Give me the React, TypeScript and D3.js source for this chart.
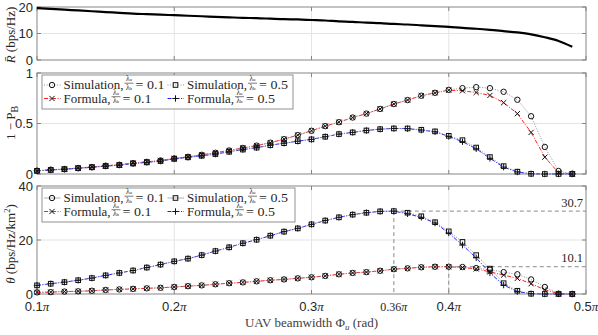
import React from 'react';
import * as d3 from 'd3';

// beamwidth samples (units of pi)
const phi = [
  0.10, 0.11, 0.12, 0.13, 0.14, 0.15, 0.16, 0.17, 0.18, 0.19,
  0.20, 0.21, 0.22, 0.23, 0.24, 0.25, 0.26, 0.27, 0.28, 0.29,
  0.30, 0.31, 0.32, 0.33, 0.34, 0.35, 0.36, 0.37, 0.38, 0.39,
  0.40, 0.41, 0.42, 0.43, 0.44, 0.45, 0.46, 0.47, 0.48, 0.49,
];

const rateBar = [
  19.6, 19.3, 19.0, 18.7, 18.4, 18.1, 17.8, 17.5, 17.3, 17.1,
  16.9, 16.7, 16.5, 16.3, 16.1, 15.9, 15.8, 15.6, 15.4, 15.3,
  15.1, 14.9, 14.6, 14.4, 14.1, 13.9, 13.6, 13.4, 13.1, 12.8,
  12.5, 12.1, 11.8, 11.4, 10.9, 10.4, 9.7, 8.6, 7.2, 5.0,
];

// 1 - P_B
const simCov01 = [
  0.032, 0.042, 0.049, 0.059, 0.069, 0.082, 0.091, 0.108, 0.12, 0.134,
  0.154, 0.17, 0.19, 0.21, 0.233, 0.258, 0.281, 0.31, 0.345, 0.385,
  0.428, 0.474, 0.513, 0.559, 0.598, 0.644, 0.693, 0.732, 0.775, 0.804,
  0.833, 0.85, 0.86, 0.85, 0.814, 0.735, 0.572, 0.268, 0.03, 0.003,
];
const fmlCov01 = [
  0.032, 0.042, 0.049, 0.059, 0.069, 0.082, 0.091, 0.108, 0.12, 0.134,
  0.154, 0.17, 0.19, 0.21, 0.233, 0.258, 0.281, 0.31, 0.345, 0.385,
  0.428, 0.474, 0.513, 0.559, 0.598, 0.644, 0.693, 0.732, 0.775, 0.804,
  0.83, 0.824, 0.807, 0.778, 0.706, 0.598, 0.412, 0.167, 0.013, 0.0,
];
const simCov05 = [
  0.031, 0.04, 0.047, 0.057, 0.066, 0.078, 0.088, 0.103, 0.115, 0.128,
  0.15, 0.165, 0.18, 0.197, 0.22, 0.242, 0.261, 0.285, 0.305, 0.325,
  0.343, 0.369, 0.395, 0.412, 0.431, 0.444, 0.451, 0.451, 0.438, 0.422,
  0.378, 0.335, 0.262, 0.168, 0.078, 0.023, 0.002, 0.0, 0.0, 0.0,
];
const fmlCov05 = [
  0.031, 0.04, 0.047, 0.057, 0.066, 0.078, 0.088, 0.103, 0.115, 0.128,
  0.15, 0.165, 0.18, 0.197, 0.22, 0.242, 0.261, 0.285, 0.305, 0.325,
  0.343, 0.369, 0.395, 0.412, 0.431, 0.444, 0.451, 0.449, 0.435, 0.418,
  0.372, 0.32, 0.25, 0.155, 0.068, 0.02, 0.002, 0.0, 0.0, 0.0,
];

// theta (bps/Hz/km^2)
const simThr01 = [
  0.6, 0.7, 0.9, 1.0, 1.2, 1.5, 1.7, 1.9, 2.1, 2.3,
  2.6, 2.9, 3.2, 3.6, 4.0, 4.3, 4.7, 5.1, 5.4, 5.8,
  6.2, 6.7, 7.3, 7.8, 8.1, 8.6, 9.2, 9.5, 9.9, 10.1,
  10.1, 10.0, 9.6, 9.0, 8.1, 7.3, 5.4, 2.6, 0.1, 0.0,
];
const fmlThr01 = [
  0.6, 0.7, 0.9, 1.0, 1.2, 1.5, 1.7, 1.9, 2.1, 2.3,
  2.6, 2.9, 3.2, 3.6, 4.0, 4.3, 4.7, 5.1, 5.4, 5.8,
  6.2, 6.7, 7.3, 7.8, 8.1, 8.6, 9.2, 9.5, 9.9, 10.1,
  10.1, 9.8, 9.3, 8.2, 7.0, 5.8, 3.8, 1.6, 0.1, 0.0,
];
const simThr05 = [
  3.2, 3.8, 4.4, 5.1, 5.9, 6.9, 7.8, 8.7, 9.8, 10.9,
  12.1, 13.1, 14.4, 15.9, 17.3, 18.8, 20.1, 21.6, 23.1, 24.3,
  25.8, 27.2, 28.4, 29.4, 30.1, 30.6, 30.7, 30.1, 28.8, 26.6,
  23.2, 19.3, 14.4, 9.4, 4.0, 1.2, 0.1, 0.0, 0.0, 0.0,
];
const fmlThr05 = [
  3.2, 3.8, 4.4, 5.1, 5.9, 6.9, 7.8, 8.7, 9.8, 10.9,
  12.1, 13.1, 14.4, 15.9, 17.3, 18.8, 20.1, 21.6, 23.1, 24.3,
  25.8, 27.2, 28.4, 29.4, 30.1, 30.6, 30.7, 29.7, 28.4, 26.3,
  22.6, 18.1, 13.4, 7.8, 3.3, 0.9, 0.1, 0.0, 0.0, 0.0,
];

const xTicks = [0.1, 0.2, 0.3, 0.4, 0.5];
const xTickLabels = ['0.1', '0.2', '0.3', '0.4', '0.5'];
const peakPhi = [0.36, 0.4];
const peakVal = [30.7, 10.1];
const peakLabels = ['30.7', '10.1'];

const W = 598;
const H = 335;
const LEFT = 37;
const RIGHT = 586;
const SANS = "'Liberation Sans', Arial, sans-serif";
const SERIF = "'Liberation Serif', 'Times New Roman', serif";
const BOX = '#858585';
const GRID = '#e4e4e4';
const TXT = '#262626';

const x = d3.scaleLinear().domain([0.1, 0.5]).range([LEFT, RIGHT]);

const panels = [
  { top: 7, bottom: 60, domain: [0, 20], ticks: [0, 10, 20], labels: ['0', '10', '20'] },
  { top: 73, bottom: 174, domain: [0, 1], ticks: [0, 0.5, 1], labels: ['0', '0.5', '1'] },
  { top: 186, bottom: 294, domain: [0, 40], ticks: [0, 20, 40], labels: ['0', '20', '40'] },
];
const yScales = panels.map((p) => d3.scaleLinear().domain(p.domain).range([p.bottom, p.top]));

type Marker = 'o' | 's' | 'x' | '+';
type Series = { values: number[]; color: string; dash: string; marker: Marker };

const simStyle = { color: '#8f8f8f', dash: '1,1.6' };
const redStyle = { color: '#ff2020', dash: '4,1.5,1,1.5' };
const blueStyle = { color: '#2020ff', dash: '4,1.5,1,1.5' };

const coverage: Series[] = [
  { values: fmlCov01, ...redStyle, marker: 'x' },
  { values: fmlCov05, ...blueStyle, marker: '+' },
  { values: simCov01, ...simStyle, marker: 'o' },
  { values: simCov05, ...simStyle, marker: 's' },
];
const throughput: Series[] = [
  { values: fmlThr01, ...redStyle, marker: 'x' },
  { values: fmlThr05, ...blueStyle, marker: '+' },
  { values: simThr01, ...simStyle, marker: 'o' },
  { values: simThr05, ...simStyle, marker: 's' },
];

const serif = { fontFamily: SERIF };
const sans = { fontFamily: SANS };

function MarkerGlyph({ kind, cx, cy }: { kind: Marker; cx: number; cy: number }) {
  const st = { fill: 'none', stroke: '#111', strokeWidth: 1 };
  if (kind === 'o') return <circle cx={cx} cy={cy} r={2.7} {...st} />;
  if (kind === 's') return <rect x={cx - 2.3} y={cy - 2.3} width={4.6} height={4.6} {...st} />;
  if (kind === 'x')
    return <path d={`M${cx - 2.6},${cy - 2.6}L${cx + 2.6},${cy + 2.6}M${cx - 2.6},${cy + 2.6}L${cx + 2.6},${cy - 2.6}`} {...st} />;
  return <path d={`M${cx - 3.2},${cy}H${cx + 3.2}M${cx},${cy - 3.2}V${cy + 3.2}`} {...st} />;
}

function Frame({ idx, showXLabels }: { idx: number; showXLabels: boolean }) {
  const p = panels[idx];
  const y = yScales[idx];
  return (
    <g>
      {xTicks.slice(1, -1).map((t) => (
        <line key={`gx${t}`} x1={x(t)} x2={x(t)} y1={p.top} y2={p.bottom} stroke={GRID} />
      ))}
      {p.ticks.slice(1, -1).map((t) => (
        <line key={`gy${t}`} x1={LEFT} x2={RIGHT} y1={y(t)} y2={y(t)} stroke={GRID} />
      ))}
      <rect x={LEFT} y={p.top} width={RIGHT - LEFT} height={p.bottom - p.top} fill="none" stroke={BOX} />
      {xTicks.map((t) => (
        <g key={`tx${t}`} stroke={BOX}>
          <line x1={x(t)} x2={x(t)} y1={p.bottom} y2={p.bottom - 4} />
          <line x1={x(t)} x2={x(t)} y1={p.top} y2={p.top + 4} />
        </g>
      ))}
      {p.ticks.map((t) => (
        <g key={`ty${t}`} stroke={BOX}>
          <line x1={LEFT} x2={LEFT + 4} y1={y(t)} y2={y(t)} />
          <line x1={RIGHT} x2={RIGHT - 4} y1={y(t)} y2={y(t)} />
        </g>
      ))}
      {p.ticks.map((t, i) => (
        <text key={`ly${t}`} x={LEFT - 4} y={y(t) + 4.5} textAnchor="end" style={sans} fontSize={13} fill={TXT}>
          {p.labels[i]}
        </text>
      ))}
      {showXLabels &&
        xTicks.map((t, i) => (
          <text key={`lx${t}`} x={x(t)} y={p.bottom + 17} textAnchor="middle" style={sans} fontSize={13} fill={TXT}>
            {xTickLabels[i]}
            <tspan style={serif} fontStyle="italic">π</tspan>
          </text>
        ))}
    </g>
  );
}

function SeriesLayer({ idx, series }: { idx: number; series: Series[] }) {
  const y = yScales[idx];
  const line = d3
    .line<number>()
    .x((_, i) => x(phi[i]))
    .y((d) => y(d));
  return (
    <g>
      {series.map((s, i) => (
        <path key={`l${i}`} d={line(s.values) || ''} fill="none" stroke={s.color} strokeWidth={1} strokeDasharray={s.dash} />
      ))}
      {series.map((s, i) => (
        <g key={`m${i}`}>
          {s.values.map((v, j) => (
            <MarkerGlyph key={j} kind={s.marker} cx={x(phi[j])} cy={y(v)} />
          ))}
        </g>
      ))}
    </g>
  );
}

// stacked lambda_u / lambda_b, one text element
function Ratio({ cx, cy }: { cx: number; cy: number }) {
  return (
    <g fill={TXT}>
      <text style={serif} fontSize={7.5} textAnchor="middle">
        <tspan x={cx} y={cy - 1.5}>
          λ<tspan fontSize={5}>u</tspan>
        </tspan>
        <tspan x={cx} y={cy + 7.2}>
          λ<tspan fontSize={5}>b</tspan>
        </tspan>
      </text>
      <line x1={cx - 4.5} x2={cx + 4.5} y1={cy + 0.5} y2={cy + 0.5} stroke={TXT} strokeWidth={0.6} />
    </g>
  );
}

const legendRows = [
  { name: 'Simulation,', width: 60, value: '0.1', col: 0, row: 0, sIdx: 2 },
  { name: 'Simulation,', width: 60, value: '0.5', col: 1, row: 0, sIdx: 3 },
  { name: 'Formula,', width: 47, value: '0.1', col: 0, row: 1, sIdx: 0 },
  { name: 'Formula,', width: 47, value: '0.5', col: 1, row: 1, sIdx: 1 },
];

function Legend({ bx, by, bw, series, solidSim }: { bx: number; by: number; bw: number; series: Series[]; solidSim: boolean }) {
  const colX = [bx + 1.5, bx + 125];
  return (
    <g>
      <rect x={bx} y={by} width={bw} height={34} fill="#fff" stroke={BOX} strokeWidth={0.9} />
      {legendRows.map((r, i) => {
        const s = series[r.sIdx];
        const x0 = colX[r.col];
        const cy = by + 10 + r.row * 13.5;
        const tx = x0 + 20;
        const isSim = s.marker === 'o' || s.marker === 's';
        return (
          <g key={i}>
            <line
              x1={x0 + 0.5}
              x2={x0 + 17}
              y1={cy}
              y2={cy}
              stroke={isSim && solidSim ? '#b0b0b0' : s.color}
              strokeDasharray={isSim && solidSim ? undefined : s.dash}
            />
            <MarkerGlyph kind={s.marker} cx={x0 + 8.5} cy={cy} />
            <text
              x={tx}
              y={cy + 4.3}
              style={serif}
              fontSize={13}
              fill={TXT}
              textLength={r.width}
              lengthAdjust="spacingAndGlyphs"
            >
              {r.name}
            </text>
            <Ratio cx={tx + r.width + 5.5} cy={cy - 2.3} />
            <text
              x={tx + r.width + 12}
              y={cy + 4.3}
              style={serif}
              fontSize={13}
              fill={TXT}
              textLength={29}
              lengthAdjust="spacingAndGlyphs"
            >
              = {r.value}
            </text>
          </g>
        );
      })}
    </g>
  );
}

function Annotations() {
  const y = yScales[2];
  const bottom = panels[2].bottom;
  return (
    <g stroke="#8a8a8a" strokeWidth={1} strokeDasharray="4,3" fill="none">
      {peakPhi.map((p, i) => (
        <g key={i}>
          <line x1={x(p)} x2={x(p)} y1={y(peakVal[i])} y2={bottom} />
          <line x1={x(p)} x2={RIGHT} y1={y(peakVal[i])} y2={y(peakVal[i])} />
        </g>
      ))}
    </g>
  );
}

export default function App() {
  const y1 = yScales[0];
  const rateLine = d3
    .line<number>()
    .x((_, i) => x(phi[i]))
    .y((d) => y1(d))
    .curve(d3.curveMonotoneX);
  const y3 = yScales[2];

  return (
    <svg
      width={W}
      height={H}
      viewBox={`0 0 ${W} ${H}`}
      style={{ position: 'absolute', left: 0, top: 0, background: '#fff' }}
    >
      <rect width={W} height={H} fill="#fff" />

      {/* panel 1: average rate */}
      <Frame idx={0} showXLabels={false} />
      <path d={rateLine(rateBar) || ''} fill="none" stroke="#000" strokeWidth={2.2} />
      <text transform="translate(15,35) rotate(-90)" textAnchor="middle" style={serif} fontSize={13} fill={TXT}>
        <tspan fontStyle="italic">R̄</tspan> (bps/Hz)
      </text>

      {/* panel 2: coverage */}
      <Frame idx={1} showXLabels={false} />
      <SeriesLayer idx={1} series={coverage} />
      <Legend bx={42} by={75} bw={251} series={coverage} solidSim={false} />
      <text transform="translate(15,123) rotate(-90)" textAnchor="middle" style={serif} fontSize={13} fill={TXT}>
        1 − P<tspan fontSize={10} dy={3}>B</tspan>
      </text>

      {/* panel 3: throughput */}
      <Frame idx={2} showXLabels={true} />
      <Annotations />
      <SeriesLayer idx={2} series={throughput} />
      <Legend bx={42} by={188} bw={253} series={throughput} solidSim={true} />
      {peakLabels.map((t, i) => (
        <text key={t} x={RIGHT - 3} y={y3(peakVal[i]) - 4.5} textAnchor="end" style={serif} fontSize={12.5} fill={TXT}>
          {t}
        </text>
      ))}
      <text x={x(0.36)} y={panels[2].bottom + 17} textAnchor="middle" style={serif} fontSize={12} fill={TXT}>
        0.36<tspan fontStyle="italic">π</tspan>
      </text>
      <text transform="translate(15,244) rotate(-90)" textAnchor="middle" style={serif} fontSize={13} fill={TXT}>
        <tspan fontStyle="italic">θ</tspan> (bps/Hz/km<tspan fontSize={8.5} dy={-5}>2</tspan>
        <tspan dy={5}>)</tspan>
      </text>
      <text x={(LEFT + RIGHT) / 2} y={327} textAnchor="middle" style={serif} fontSize={13} fill="#404040">
        UAV beamwidth Φ<tspan fontStyle="italic" fontSize={9} dy={2.5}>u</tspan>
        <tspan dy={-2.5}> (rad)</tspan>
      </text>
    </svg>
  );
}
